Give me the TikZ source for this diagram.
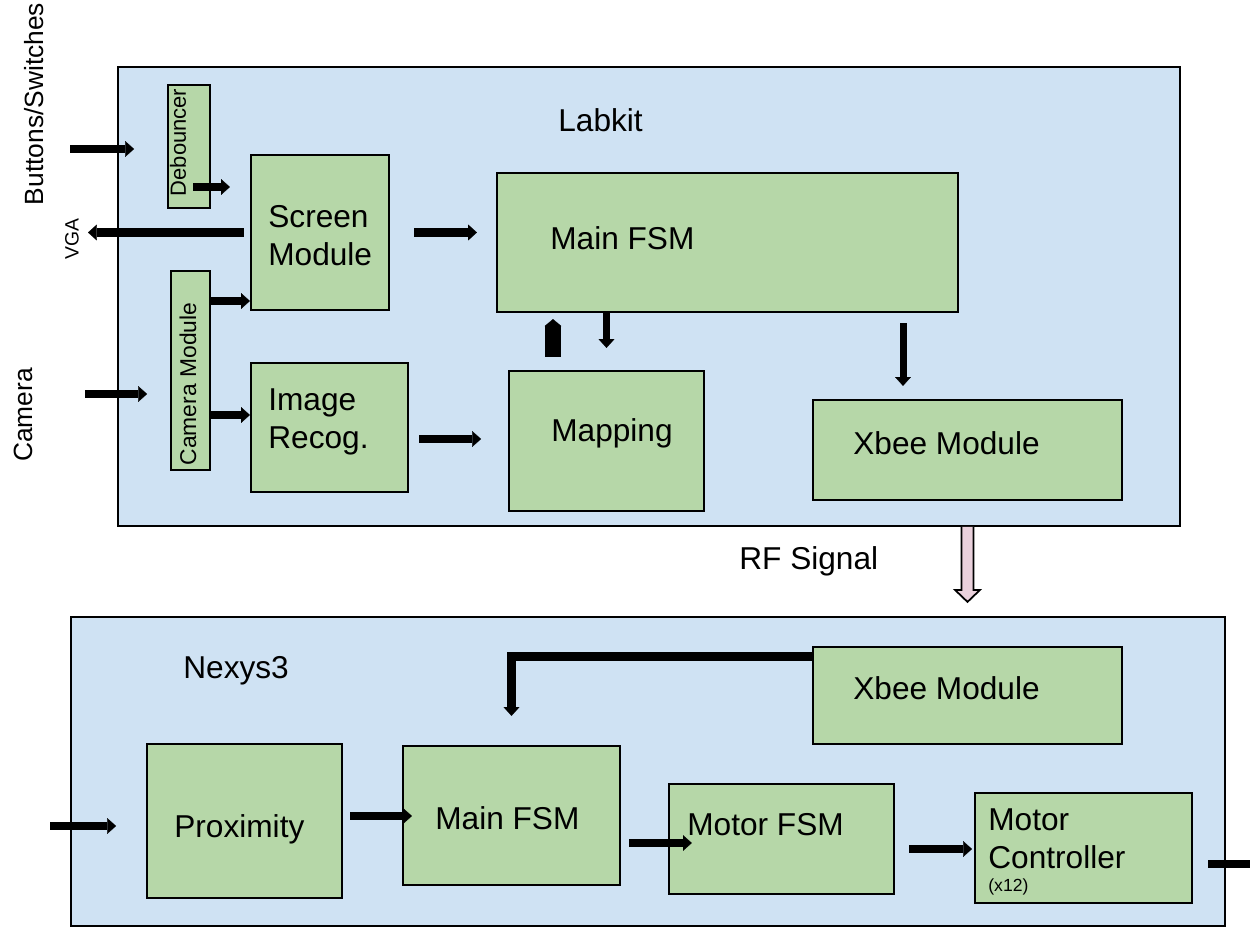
\documentclass[tikz,border=0pt]{standalone}
\usepackage{fontspec}
\setmainfont{Liberation Sans}
\usepackage{tikz}
\usetikzlibrary{arrows.meta}

\definecolor{boardblue}{HTML}{CFE2F3}
\definecolor{modgreen}{HTML}{B6D7A8}
\definecolor{rfpink}{HTML}{EAD1DC}

\begin{document}
\begin{tikzpicture}[x=0.02cm, y=-0.02cm, >={Triangle[width=9pt,length=5pt,line width=0.1pt]}]
\tikzstyle{board}=[draw=black, line width=1.1pt, fill=boardblue, inner sep=0pt]
\tikzstyle{module}=[draw=black, line width=1.3pt, fill=modgreen, inner sep=0pt]
\tikzstyle{bus}=[->, line width=5pt]
\tikzstyle{thinbus}=[->, line width=4pt]
\tikzstyle{txt}=[anchor=west, inner sep=0pt, font=\fontsize{18}{21.5}\selectfont, align=left]
\tikzstyle{sidetxt}=[rotate=90, inner sep=0pt]

\useasboundingbox (0,0) rectangle (1250,928);

\node[board, minimum width=21.24cm, minimum height=9.18cm] (labkit) at (649,296.5) {};
\node[board, minimum width=23.09cm, minimum height=6.18cm] (nexys) at (647.75,771.5) {};

\node[module, minimum width=0.84cm, minimum height=2.46cm] (deb) at (189,146.5) {};
\node[module, minimum width=2.76cm, minimum height=3.1cm] (screen) at (320,232.5) {};
\node[module, minimum width=0.78cm, minimum height=3.98cm] (cam) at (190.5,370.5) {};
\node[module, minimum width=3.14cm, minimum height=2.58cm] (imgrec) at (329.5,427.5) {};
\node[module, minimum width=9.22cm, minimum height=2.78cm] (mfsmA) at (727.5,242.5) {};
\node[module, minimum width=3.9cm, minimum height=2.8cm] (mapping) at (606.5,441) {};
\node[module, minimum width=6.18cm, minimum height=2cm] (xbeeA) at (967.5,450) {};
\node[module, minimum width=6.18cm, minimum height=1.94cm] (xbeeB) at (967.5,695.5) {};
\node[module, minimum width=3.9cm, minimum height=3.08cm] (prox) at (244.5,821) {};
\node[module, minimum width=4.34cm, minimum height=2.78cm] (mfsmB) at (511.5,815.5) {};
\node[module, minimum width=4.5cm, minimum height=2.2cm] (motfsm) at (781.5,839) {};
\node[module, minimum width=4.34cm, minimum height=2.2cm] (motctl) at (1083.5,848) {};

\node[txt] (labkit-t) at (558,120) {Labkit};
\node[txt] (nexys-t) at (183,671) {Nexys3};
\node[txt] (screen-t) at (268,236) {Screen\\Module};
\node[txt] (imgrec-t) at (268,422) {Image\\Recog.};
\node[txt] (mfsmA-t) at (550,238) {Main FSM};
\node[txt] (mapping-t) at (551,433) {Mapping};
\node[txt] (xbeeA-t) at (853,443) {Xbee Module};
\node[txt] (xbeeB-t) at (853,688) {Xbee Module};
\node[txt] (prox-t) at (174,829) {Proximity};
\node[txt] (mfsmB-t) at (435,818) {Main FSM};
\node[txt] (motfsm-t) at (687,825) {Motor FSM};
\node[txt] (motctl-t) at (988,839) {Motor\\Controller};
\node[txt, font=\fontsize{10}{12}\selectfont] (x12-t) at (988,887) {(x12)};
\node[txt] (rf-t) at (739,561) {RF Signal};

\node[sidetxt, font=\fontsize{15}{18}\selectfont] (btn-t) at (34,104) {Buttons/Switches};
\node[sidetxt, font=\fontsize{11}{13}\selectfont] (vga-t) at (72,239) {VGA};
\node[sidetxt, font=\fontsize{15}{18}\selectfont] (cam-t) at (23,415) {Camera};
\node[sidetxt, font=\fontsize{12.5}{15}\selectfont] (deb-t) at (178,142.5) {Debouncer};
\node[sidetxt, font=\fontsize{13}{15}\selectfont] (camm-t) at (188,384) {Camera Module};

\coordinate (btnin) at (70,149);
\coordinate (vgaout) at (88,232.5);
\coordinate (camin) at (85,394);
\coordinate (proxin) at (50,826);
\coordinate (ctlout) at (1262,864);
\coordinate (rf) at (xbeeA.south |- labkit.south);

\draw[bus, shorten >=18.7pt] (btnin) -- (btnin -| deb.west);
\draw[bus] ([shift={(-18,40.5)}]deb.east) -- ([shift={(-20,-45.5)}]screen.west);
\draw[bus] ([shift={(-6,0)}]screen.west) -- (vgaout);
\draw[bus] (cam.east |- 0,301) -- (screen.west |- 0,301);
\draw[bus, shorten >=13pt] (camin) -- (camin -| cam.west);
\draw[bus] (cam.east |- 0,415) -- (imgrec.west |- 0,415);
\draw[bus, shorten <=13.6pt, shorten >=10.8pt] (screen.east) -- (screen.east -| mfsmA.west);
\draw[bus, shorten <=5.7pt, shorten >=15.3pt] (imgrec.east |- 0,439) -- (mapping.west |- 0,439);
\draw[->, line width=9.5pt, >={Triangle[width=9.5pt,length=4pt,line width=0.1pt]}, shorten <=7.4pt, shorten >=3.4pt] (mapping.north -| 553,0) -- (mfsmA.south -| 553,0);
\draw[thinbus, shorten >=12.5pt] (mfsmA.south -| mapping.north) -- (mapping.north);
\draw[thinbus, shorten <=5.7pt, shorten >=7.4pt] (mfsmA.south -| 903,0) -- (xbeeA.north -| 903,0);

\draw[line width=1pt, fill=rfpink] (rf) ++(-6,0) -- ++(0,63) -- ++(-6.5,0) -- ++(12.5,12) -- ++(12.5,-12) -- ++(-6.5,0) -- ++(0,-63);

\draw[bus] ([shift={(0,11)}]xbeeB.north west) -| ([shift={(0,-29)}]mfsmB.north);
\draw[bus, shorten >=17pt] (proxin) -- (proxin -| prox.west);
\draw[bus, shorten <=4pt, shorten >=-5.7pt] (prox.east |- 0,816) -- (mfsmB.west |- 0,816);
\draw[bus, shorten <=4.5pt, shorten >=-13.6pt] (mfsmB.east |- 0,843) -- (motfsm.west |- 0,843);
\draw[bus, shorten <=8pt, shorten >=1.1pt] (motfsm.east |- 0,849) -- (motctl.west |- 0,849);
\draw[bus, shorten <=8.5pt] (motctl.east |- 0,864) -- (ctlout);

\end{tikzpicture}
\end{document}
